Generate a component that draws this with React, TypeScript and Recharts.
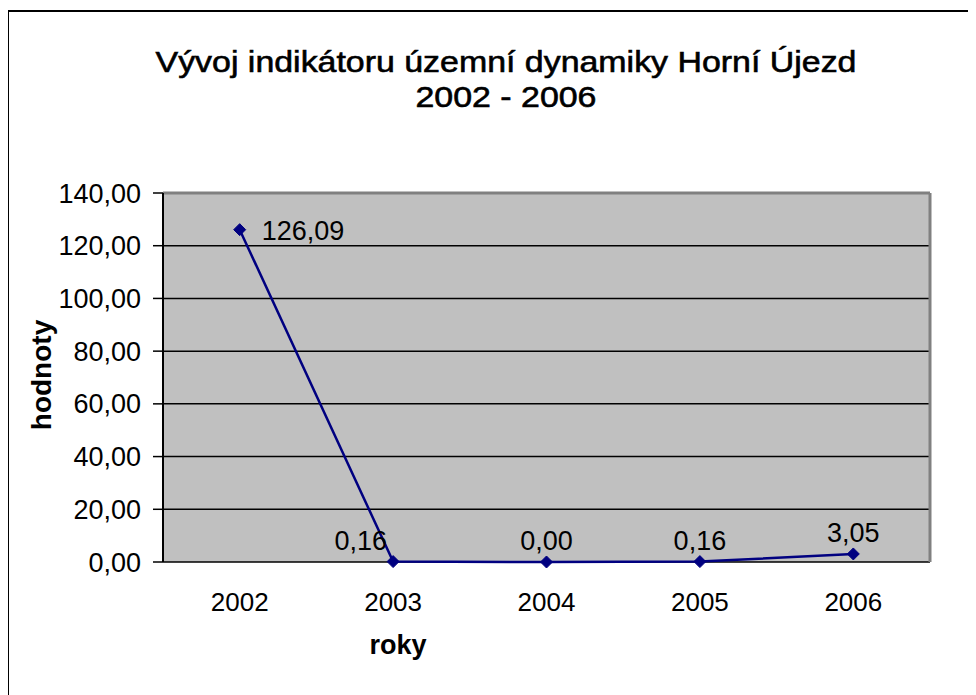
import { LineChart, Line, XAxis, YAxis, CartesianGrid, ReferenceLine, LabelList } from 'recharts';

const years = ['2002', '2003', '2004', '2005', '2006'];
const values = [126.09, 0.16, 0.0, 0.16, 3.05];
const yTicks = [0, 20, 40, 60, 80, 100, 120, 140];
const bandEdges = [0, 1, 2, 3, 4, 5];

const data = years.map((year, i) => ({ year, pos: i + 0.5, value: values[i] }));

const FONT = '"Liberation Sans", Arial, sans-serif';
const fmt = (v: number) => v.toFixed(2).replace('.', ',');

// diamond marker
const Diamond = (props: any) => {
  const { cx, cy } = props;
  if (cx == null || cy == null) return null;
  const r = 6;
  return (
    <polygon
      points={`${cx},${cy - r} ${cx + r},${cy} ${cx},${cy + r} ${cx - r},${cy}`}
      fill="#000080"
      stroke="#000080"
    />
  );
};

// label placement differs per point, as in the original
const PointLabel = (props: any) => {
  const { x, y, value, index } = props;
  let tx = x;
  let ty = y - 12;
  let anchor: 'start' | 'middle' | 'end' = 'middle';
  if (index === 0) {
    tx = x + 22;
    ty = y + 10;
    anchor = 'start';
  } else if (index === 1) {
    tx = x - 6;
    anchor = 'end';
  }
  return (
    <text x={tx} y={ty} textAnchor={anchor} fontSize={27} fontFamily={FONT} fill="#000">
      {fmt(value)}
    </text>
  );
};

export default function App() {
  return (
    <div style={{ position: 'relative', width: 968, height: 687, overflow: 'visible', fontFamily: FONT }}>
      <div
        style={{
          position: 'absolute',
          left: -1,
          top: 2,
          width: 1000,
          height: 700,
          borderLeft: '2px solid #000',
          borderTop: '2px solid #000',
          boxSizing: 'border-box',
        }}
      />
      <div
        style={{
          position: 'absolute',
          left: 0,
          width: 996,
          top: 36,
          textAlign: 'center',
          fontSize: 30,
          lineHeight: '35px',
          color: '#000',
          WebkitTextStroke: '0.6px #000',
          transform: 'scaleX(1.13)',
          transformOrigin: '498px 0',
        }}
      >
        Vývoj indikátoru územní dynamiky Horní Újezd
        <br />
        2002 - 2006
      </div>
      <div
        style={{
          position: 'absolute',
          left: 34,
          top: 367,
          transform: 'translate(-50%, -50%) rotate(-90deg)',
          fontWeight: 'bold',
          fontSize: 28,
          whiteSpace: 'nowrap',
        }}
      >
        hodnoty
      </div>
      <div
        style={{
          position: 'absolute',
          left: 390,
          top: 637,
          transform: 'translate(-50%, -50%)',
          fontWeight: 'bold',
          fontSize: 27,
        }}
      >
        roky
      </div>
      <div style={{ position: 'absolute', left: 0, top: 0 }}>
        <LineChart
          width={968}
          height={680}
          data={data}
          margin={{ top: 185, right: 45, left: 55, bottom: 66 }}
        >
          <CartesianGrid
            vertical={false}
            fill="#C0C0C0"
            fillOpacity={1}
            stroke="#000"
            strokeWidth={1.5}
          />
          <XAxis
            xAxisId="edges"
            dataKey="pos"
            type="number"
            domain={[0, 5]}
            ticks={bandEdges}
            tickFormatter={() => ''}
            height={0}
            tickSize={9}
            tickLine={{ stroke: '#000', strokeWidth: 1.5 }}
            axisLine={{ stroke: '#000', strokeWidth: 2 }}
          />
          <XAxis
            dataKey="year"
            scale="band"
            height={60}
            tickLine={false}
            axisLine={false}
            tickSize={9}
            tickMargin={22}
            tick={{ fontSize: 26, fontFamily: FONT, fill: '#000' }}
          />
          <YAxis
            domain={[0, 140]}
            ticks={yTicks}
            interval={0}
            width={100}
            tickFormatter={fmt}
            tickSize={10}
            tickMargin={12}
            tick={{ fontSize: 27, fontFamily: FONT, fill: '#000' }}
            tickLine={{ stroke: '#000', strokeWidth: 1.5 }}
            axisLine={{ stroke: '#000', strokeWidth: 2 }}
          />
          <YAxis
            yAxisId="right"
            orientation="right"
            width={1}
            tick={false}
            tickLine={false}
            axisLine={{ stroke: '#808080', strokeWidth: 3 }}
          />
          <ReferenceLine y={140} stroke="#808080" strokeWidth={3} />
          <Line
            xAxisId="edges"
            dataKey="value"
            stroke="#000080"
            strokeWidth={2.5}
            dot={<Diamond />}
            activeDot={false}
            isAnimationActive={false}
          >
            <LabelList dataKey="value" content={<PointLabel />} />
          </Line>
        </LineChart>
      </div>
    </div>
  );
}
